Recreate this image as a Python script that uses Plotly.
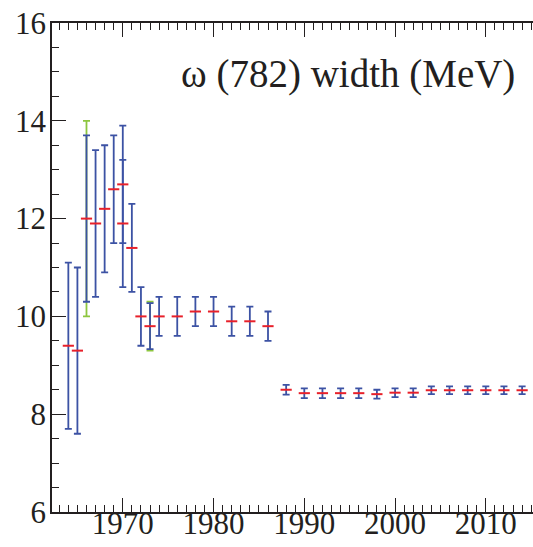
import plotly.graph_objects as go

# Data: omega(782) width history (MeV)
years = [1964, 1965, 1966, 1967, 1968, 1969, 1970, 1970, 1971, 1972, 1973, 1974,
         1976, 1978, 1980, 1982, 1984, 1986,
         1988, 1990, 1992, 1994, 1996, 1998, 2000, 2002, 2004, 2006, 2008, 2010, 2012, 2014]
values = [9.4, 9.3, 12.0, 11.9, 12.2, 12.6, 12.7, 11.9, 11.4, 10.0, 9.8, 10.0,
          10.0, 10.1, 10.1, 9.9, 9.9, 9.8,
          8.5, 8.43, 8.43, 8.43, 8.43, 8.41, 8.44, 8.44, 8.49, 8.49, 8.49, 8.49, 8.49, 8.49]
errors = [1.7, 1.7, 1.7, 1.5, 1.3, 1.1, 1.2, 1.3, 0.9, 0.6, 0.47, 0.4,
          0.4, 0.3, 0.3, 0.3, 0.3, 0.3,
          0.1, 0.1, 0.1, 0.1, 0.1, 0.09, 0.09, 0.09, 0.08, 0.08, 0.08, 0.08, 0.08, 0.08]

# Additional (green) error bars
green_years = [1966, 1973]
green_values = [12.0, 9.8]
green_errors = [2.0, 0.5]

title_text = "ω (782) width (MeV)"
x_tickvals = [1970, 1980, 1990, 2000, 2010]
y_tickvals = [6, 8, 10, 12, 14, 16]

BLUE = "#3c52a4"
RED = "#e8202a"
GREEN = "#8dc63f"
INK = "#231f20"
FONT = "Liberation Serif"

fig = go.Figure()
fig.add_trace(go.Scatter(
    x=green_years, y=green_values, mode="markers",
    marker=dict(size=1, color="rgba(0,0,0,0)"),
    error_y=dict(type="data", array=green_errors, visible=True,
                 color=GREEN, thickness=1.8, width=3.5),
    showlegend=False, hoverinfo="skip"))
fig.add_trace(go.Scatter(
    x=years, y=values, mode="markers",
    marker=dict(size=1, color="rgba(0,0,0,0)"),
    error_y=dict(type="data", array=errors, visible=True,
                 color=BLUE, thickness=1.8, width=3.5),
    showlegend=False))
fig.add_trace(go.Scatter(
    x=years, y=values, mode="markers",
    marker=dict(symbol="line-ew", size=8, line=dict(color=RED, width=2)),
    showlegend=False))

fig.add_annotation(text=title_text, xref="paper", yref="paper",
                   x=0.967, y=0.896, xanchor="right", yanchor="middle",
                   showarrow=False, font=dict(family=FONT, size=39, color=INK))

axis_common = dict(showgrid=False, zeroline=False, showline=True,
                   linecolor=INK, linewidth=1.5, ticks="inside",
                   tickcolor=INK, ticklen=14, tickwidth=1.2, automargin=False,
                   ticklabeloverflow="allow",
                   tickfont=dict(family=FONT, size=31, color=INK))

fig.update_xaxes(range=[1962.2, 2015.2], tickvals=x_tickvals,
                 mirror="allticks", ticklabelstandoff=-17,
                 minor=dict(dtick=1, tick0=1960, ticks="inside", ticklen=7,
                            tickcolor=INK, tickwidth=1.0),
                 **axis_common)
fig.update_yaxes(range=[6, 16], tickvals=y_tickvals,
                 mirror=False, ticklabelstandoff=-2,
                 minor=dict(dtick=0.5, tick0=6, ticks="inside", ticklen=7,
                            tickcolor=INK, tickwidth=1.0),
                 **axis_common)

fig.update_layout(width=533, height=547,
                  margin=dict(l=52, r=0, t=23, b=35),
                  plot_bgcolor="white", paper_bgcolor="white",
                  showlegend=False)

fig.write_html(
    "out.html",
    config={"displayModeBar": False},
    post_script=("document.body.style.margin='0';"
                 "document.body.style.overflow='hidden';"
                 "document.documentElement.style.overflow='hidden';"))
